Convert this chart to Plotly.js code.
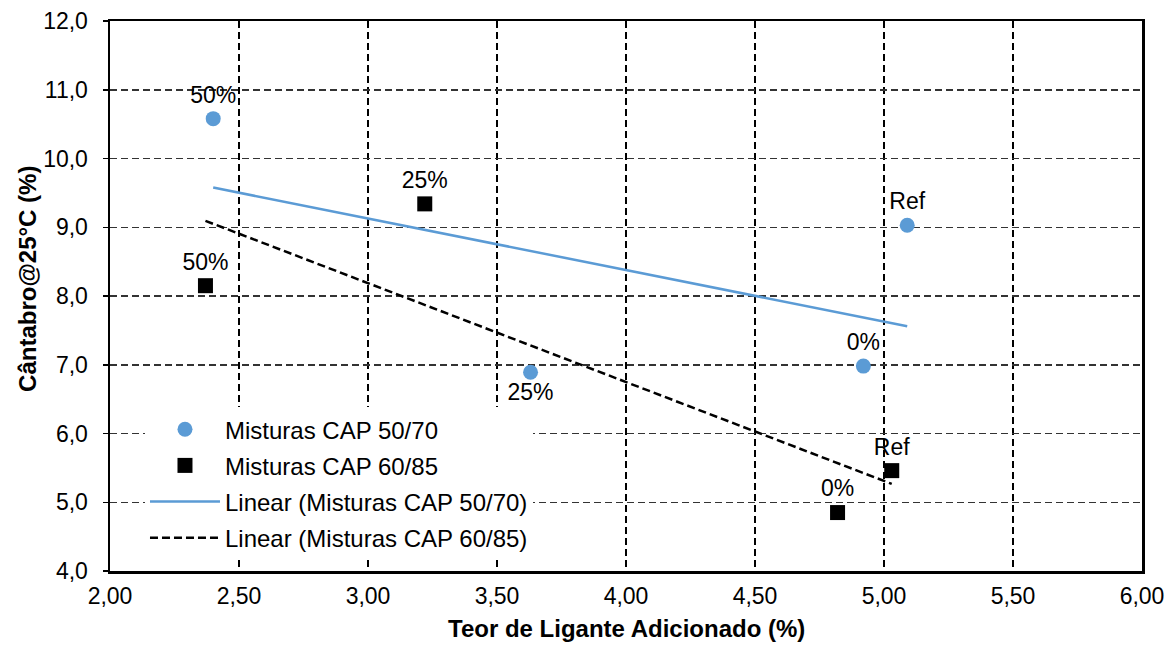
<!DOCTYPE html>
<html>
<head>
<meta charset="utf-8">
<script src="https://cdn.plot.ly/plotly-3.0.1.min.js"></script>
<style>html,body{margin:0;padding:0;background:#fff;}#chart{width:1168px;height:648px;}</style>
</head>
<body>
<div id="chart"></div>
<script>
// Misturas CAP 50/70
const x5070 = [2.40, 3.63, 4.92, 5.09];
const y5070 = [10.58, 6.89, 6.98, 9.03];
const lab5070 = ["50%", "25%", "0%", "Ref"];
const pos5070 = ["top center", "bottom center", "top center", "top center"];
// Misturas CAP 60/85
const x6085 = [2.37, 3.22, 4.82, 5.03];
const y6085 = [8.15, 9.34, 4.85, 5.46];
const lab6085 = ["50%", "25%", "0%", "Ref"];
const pos6085 = ["top center", "top center", "top center", "top center"];

const xTicks = [2.0, 2.5, 3.0, 3.5, 4.0, 4.5, 5.0, 5.5, 6.0];
const yTicks = [4, 5, 6, 7, 8, 9, 10, 11, 12];

function linfit(xs, ys) {
  const n = xs.length;
  const mx = xs.reduce((a, b) => a + b, 0) / n;
  const my = ys.reduce((a, b) => a + b, 0) / n;
  let sxy = 0, sxx = 0;
  for (let i = 0; i < n; i++) { sxy += (xs[i] - mx) * (ys[i] - my); sxx += (xs[i] - mx) ** 2; }
  const b = sxy / sxx, a = my - b * mx;
  const x0 = Math.min(...xs), x1 = Math.max(...xs);
  return { x: [x0, x1], y: [a + b * x0, a + b * x1] };
}
const fitA = linfit(x5070, y5070);
const fitB = linfit(x6085, y6085);

const FONT = "Liberation Sans, Arial, sans-serif";
const blue = "#5B9BD5";

const traces = [
  { x: x5070, y: y5070, text: lab5070, textposition: pos5070, mode: "markers+text", type: "scatter",
    name: "Misturas CAP 50/70", legendgroup: "a",
    marker: { symbol: "circle", size: 15, color: blue }, textfont: { family: FONT, size: 23, color: "#000" }, cliponaxis: false },
  { x: x6085, y: y6085, text: lab6085, textposition: pos6085, mode: "markers+text", type: "scatter",
    name: "Misturas CAP 60/85", legendgroup: "b",
    marker: { symbol: "square", size: 15, color: "#000" }, textfont: { family: FONT, size: 23, color: "#000" }, cliponaxis: false },
  { x: fitA.x, y: fitA.y, mode: "lines", type: "scatter", name: "Linear (Misturas CAP 50/70)", legendgroup: "c",
    line: { color: blue, width: 2.5 } },
  { x: fitB.x, y: fitB.y, mode: "lines", type: "scatter", name: "Linear (Misturas CAP 60/85)", legendgroup: "d",
    line: { color: "#000", width: 2.5, dash: "8px,4px" } }
];

const layout = {
  width: 1168, height: 648,
  paper_bgcolor: "#fff", plot_bgcolor: "#fff",
  separators: ",.",
  margin: { l: 110, r: 26, t: 21, b: 77 },
  font: { family: FONT, size: 23, color: "#000" },
  showlegend: true,
  legend: {
    x: 0.0339, y: 0.298, xanchor: "left", yanchor: "top",
    bgcolor: "#fff", borderwidth: 0,
    font: { family: FONT, size: 24, color: "#000" },
    traceorder: "grouped", tracegroupgap: 2, itemwidth: 70
  },
  xaxis: {
    range: [2, 6], tickvals: xTicks, tickformat: ".2f",
    showline: true, linecolor: "#000", linewidth: 2.5, mirror: true,
    showgrid: true, gridcolor: "#000", gridwidth: 1.6, griddash: "7px,4px",
    zeroline: false, ticks: "", ticklabelstandoff: 3,
    tickfont: { family: FONT, size: 23, color: "#000" }
  },
  yaxis: {
    range: [4, 12], tickvals: yTicks, tickformat: ".1f",
    showline: true, linecolor: "#000", linewidth: 2.5, mirror: true,
    showgrid: true, gridcolor: "#333", gridwidth: 1.5, griddash: "7px,4px",
    zeroline: false, ticks: "outside", ticklen: 5, tickcolor: "#000", tickwidth: 1.5,
    ticklabelstandoff: 10,
    tickfont: { family: FONT, size: 23, color: "#000" }
  },
  annotations: [
    { text: "<b>Teor de Ligante Adicionado (%)</b>", xref: "paper", yref: "paper", x: 0.5, xanchor: "center",
      y: 0, yshift: -57, yanchor: "middle", showarrow: false,
      font: { family: FONT, size: 24, color: "#000" } },
    { text: "<b>Cântabro@25°C (%)</b>", xref: "paper", yref: "paper", x: 0, xshift: -82, xanchor: "center",
      y: 0.531, yanchor: "middle", textangle: -90, showarrow: false,
      font: { family: FONT, size: 24, color: "#000" } }
  ]
};

Plotly.newPlot("chart", traces, layout, { displayModeBar: false, staticPlot: true });
</script>
</body>
</html>
